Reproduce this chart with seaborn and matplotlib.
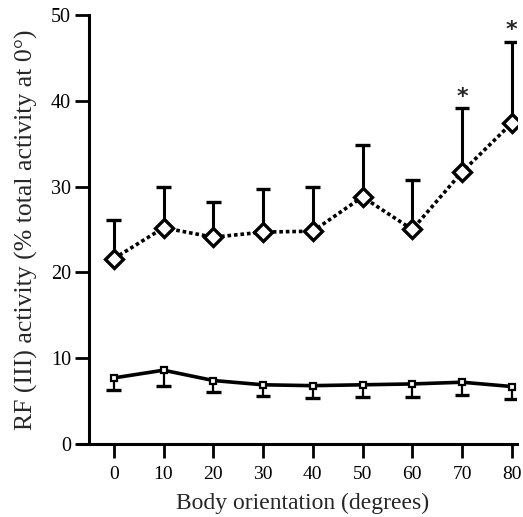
import numpy as np
import pandas as pd
import matplotlib
matplotlib.use("Agg")
import matplotlib.pyplot as plt
import seaborn as sns

# Body orientation (degrees)
orientation = [0, 10, 20, 30, 40, 50, 60, 70, 80]
# Upper series: mean and upper error limit
upper_mean = [21.6, 25.2, 24.1, 24.7, 24.8, 28.8, 25.0, 31.7, 37.4]
upper_top = [26.1, 30.0, 28.2, 29.7, 29.9, 34.8, 30.8, 39.2, 46.9]
# Lower series: mean and lower error limit
lower_mean = [7.7, 8.6, 7.4, 6.9, 6.8, 6.9, 7.0, 7.2, 6.7]
lower_bottom = [6.3, 6.8, 6.1, 5.6, 5.4, 5.5, 5.5, 5.75, 5.2]
# Significance markers
star_x = [70, 80]
x_ticks = [0, 10, 20, 30, 40, 50, 60, 70, 80]
y_ticks = [0, 10, 20, 30, 40, 50]

sns.set_style("ticks")
plt.rcParams["font.family"] = ["Liberation Serif", "DejaVu Serif"]

fig = plt.figure(figsize=(5.23, 5.17), dpi=100)
ax = fig.add_axes([0.170, 0.1412, 0.818, 0.8298])

df_up = pd.DataFrame({"x": orientation, "y": upper_mean})
df_lo = pd.DataFrame({"x": orientation, "y": lower_mean})

cap_half = 1.5  # half-width of error caps, in degrees

# one-sided error bars: stems and caps, beneath the markers
ax.vlines(orientation, upper_mean, upper_top, colors="black",
          linewidth=2.2, zorder=1)
ax.hlines(upper_top, np.array(orientation) - cap_half,
          np.array(orientation) + cap_half, colors="black",
          linewidth=2.4, zorder=1)
ax.vlines(orientation, lower_bottom, lower_mean, colors="black",
          linewidth=1.6, zorder=1)
ax.hlines(lower_bottom, np.array(orientation) - cap_half,
          np.array(orientation) + cap_half, colors="black",
          linewidth=2.4, zorder=1)

sns.lineplot(data=df_up, x="x", y="y", ax=ax, color="black",
             linestyle=(0, (1, 0.8)), linewidth=2.6, marker="D",
             markersize=9, markerfacecolor="white", markeredgecolor="black",
             markeredgewidth=2.4, zorder=3)
sns.lineplot(data=df_lo, x="x", y="y", ax=ax, color="black",
             linewidth=2.6, marker="s", markersize=5,
             markerfacecolor="white", markeredgecolor="black",
             markeredgewidth=1.6, zorder=3)

for sx in star_x:
    i = orientation.index(sx)
    ax.text(sx, upper_top[i] + 1.3, "*", ha="center", va="center",
            fontsize=16, fontweight="bold", family="DejaVu Sans")

ax.set_xlim(-5, 81)
ax.set_ylim(0, 50)
ax.set_xticks(x_ticks)
ax.set_yticks(y_ticks)
ax.tick_params(axis="both", direction="out", length=10, width=2,
               labelsize=14.5, color="black", labelcolor="black")
ax.tick_params(axis="x", pad=6, labelsize=14)
ax.tick_params(axis="y", pad=3)
for side in ["top", "right"]:
    ax.spines[side].set_visible(False)
for side in ["left", "bottom"]:
    ax.spines[side].set_linewidth(2.2)
    ax.spines[side].set_color("black")
ax.spines["bottom"].set_bounds(-7.2, 81)
ax.spines["bottom"].set_clip_on(False)

ax.set_xlabel("Body orientation (degrees)", fontsize=17, labelpad=7)
ax.set_ylabel("RF (III) activity (% total activity at 0°)", fontsize=18.5,
              labelpad=9)

fig.savefig("out.png", dpi=100)
